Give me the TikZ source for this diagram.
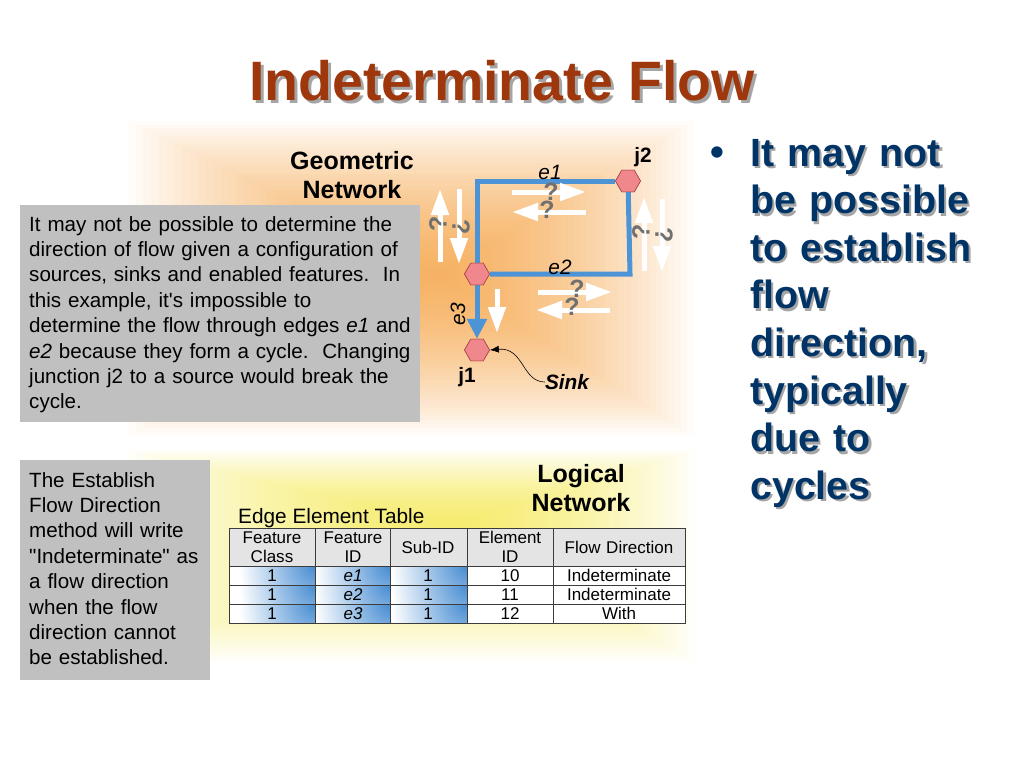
\documentclass[tikz,border=0pt]{standalone}
\usepackage{fontspec}
\setmainfont{Liberation Sans}[Ligatures=TeXOff]
\usetikzlibrary{arrows.meta,shapes.geometric}

\definecolor{titleRed}{RGB}{158,56,12}
\definecolor{orangeC}{RGB}{246,178,100}
\definecolor{yellowC}{RGB}{246,236,112}
\definecolor{grayBox}{RGB}{192,192,192}
\definecolor{netBlue}{RGB}{77,148,214}
\definecolor{pinkJ}{RGB}{240,135,140}
\definecolor{pinkEdge}{RGB}{170,70,70}
\definecolor{qGray}{RGB}{112,112,112}
\definecolor{navy}{RGB}{0,51,102}
\definecolor{shadowGray}{RGB}{165,165,165}
\definecolor{hdrGray}{RGB}{228,228,228}
\definecolor{cellBlue}{RGB}{70,140,210}
\definecolor{tabLine}{RGB}{60,60,60}

\newcommand\fsz[2]{\fontsize{#1}{#2}\selectfont}
% soft rectangular gradient panel: x1,y1,x2,y2,cx,cy,colour
\newcommand\softpanel[7]{%
  \foreach \gfI in {0,...,40}{%
    \pgfmathsetmacro\gfT{\gfI/40}%
    \pgfmathsetmacro\gfP{100*(1.6*\gfT-0.6*\gfT*\gfT)}%
    \fill[#7!\gfP!white]
      ({#1+\gfT*(#5-#1)*0.97},{#2+\gfT*(#6-#2)*0.97}) rectangle
      ({#3-\gfT*(#3-#5)*0.97},{#4-\gfT*(#4-#6)*0.97});
  }}

\begin{document}
\begin{tikzpicture}[x=1pt,y=-1pt,
  graybox/.style={fill=grayBox,draw=none,minimum width=#1,inner sep=0pt,anchor=north west},
  boxtext/.style={anchor=base west,inner sep=0pt,text width=395pt,align=left,font=\fsz{20.6}{25.4}},
  nettitle/.style={anchor=base,inner sep=0pt,text width=200pt,align=center,font=\fsz{25}{29}\bfseries},
  wArrow/.style={draw=white,line width=5pt,-{Triangle[length=26pt,width=17pt]}},
  qmark/.style={text=qGray,font=\fsz{25}{25}\bfseries,inner sep=0pt},
  junc/.style={regular polygon,regular polygon sides=6,minimum size=25pt,inner sep=0pt,
               fill=pinkJ,draw=pinkEdge,line width=0.6pt},
  netline/.style={draw=netBlue,line width=5pt,line join=miter},
  lbl/.style={inner sep=0pt,font=\fsz{20.8}{24}},
  tabtext/.style={inner sep=0pt,anchor=base,text width=90pt,align=center,font=\fsz{17}{19}},
  rtext/.style={anchor=base west,inner sep=0pt,text width=270pt,align=left,font=\fsz{39.4}{47.6}\bfseries}
]
\useasboundingbox (0,0) rectangle (1024,768);
\fill[white] (0,0) rectangle (1024,768);

% gradient panels
\softpanel{120}{117}{700}{440}{440}{275}{orangeC}
\softpanel{120}{448}{700}{665}{450}{525}{yellowC}

% title
\node[anchor=base,inner sep=0pt,font=\fsz{55.5}{60}\bfseries,text=shadowGray] (titlesh) at (505,103) {Indeterminate Flow};
\node[anchor=base,inner sep=0pt,font=\fsz{55.5}{60}\bfseries,text=titleRed] (title) at (502,100) {Indeterminate Flow};

% grey explanation boxes
\node[graybox=400pt,minimum height=217pt] (box1) at (20,205) {};
\node[boxtext] (text1) at (29,231) {It may not be possible to determine the\\
direction of flow given a configuration of\\
sources, sinks and enabled features.\ \ In\\
this example, it's impossible to\\
determine the flow through edges \textit{e1} and\\
\textit{e2} because they form a cycle.\ \ Changing\\
junction j2 to a source would break the\\
cycle.};

\node[graybox=190pt,minimum height=220pt] (box2) at (20,460) {};
\node[boxtext,text width=185pt] (text2) at (29,487) {The Establish\\
Flow Direction\\
method will write\\
"Indeterminate" as\\
a flow direction\\
when the flow\\
direction cannot\\
be established.};

% network titles
\node[nettitle] (geo) at (352,169) {Geometric\\Network};
\node[nettitle] (logi) at (581,482) {Logical\\Network};

% geometric network
\node[junc] (j2) at (628,181) {};
\node[junc] (jm) at (477,274) {};
\node[junc] (j1) at (477,350) {};
\coordinate (ctl) at (477,181);
\coordinate (cbr) at (630,274);
\draw[netline] (jm) -- (ctl) -- (j2);
\draw[netline] (j2) -- (cbr) -- (jm);
\draw[netline,-{Triangle[length=20pt,width=19pt]}] (jm) -- (j1);
% junctions drawn again on top of the lines
\node[junc] at (j2) {};
\node[junc] at (jm) {};
\node[junc] at (j1) {};

% white flow arrows
\draw[wArrow] (512,192) -- (586,192);
\draw[wArrow] (586,212) -- (512,212);
\draw[wArrow] (538,292) -- (612,292);
\draw[wArrow] (610,310) -- (536,310);
\draw[wArrow] (440,262) -- (440,189);
\draw[wArrow] (459,189) -- (459,264);
\draw[wArrow] (644,271) -- (644,197);
\draw[wArrow] (662,199) -- (662,272);
\draw[wArrow] (497,289) -- (497,333);

% question marks
\node[qmark] (q1) at (551,192) {?};
\node[qmark] (q2) at (547,210) {?};
\node[qmark] (q3) at (577,289) {?};
\node[qmark] (q4) at (572,307) {?};
\node[qmark,rotate=90] (q5) at (438,224) {?};
\node[qmark,rotate=-90] (q6) at (461,227) {?};
\node[qmark,rotate=90] (q7) at (641,232) {?};
\node[qmark,rotate=-90] (q8) at (664,235) {?};

% labels
\node[lbl,font=\fsz{20.8}{24}\itshape] (le1) at (550,172) {e1};
\node[lbl,font=\fsz{20.8}{24}\itshape] (le2) at (560,267) {e2};
\node[lbl,font=\fsz{20.8}{24}\itshape,rotate=90] (le3) at (458,314) {e3};
\node[lbl,font=\fsz{20.8}{24}\bfseries] (lj2) at (643,157) {j2};
\node[lbl,font=\fsz{20.8}{24}\bfseries] (lj1) at (467,377) {j1};
\node[lbl,font=\fsz{20.8}{24}\bfseries\itshape] (sink) at (567,382) {Sink};
\draw[black,line width=0.6pt,-{Latex[length=9pt,width=7pt]}]
  (sink.west) .. controls (522,382) and (524,347) .. (j1.east);

% edge element table
\node[anchor=base west,inner sep=0pt,font=\fsz{20.8}{24}] (tabcap) at (238,523) {Edge Element Table};
\fill[hdrGray] (229,528) rectangle (685,566);
\fill[white] (229,566) rectangle (685,623);
\foreach \xa/\xb in {229/315,315/390,390/467}{
  \foreach \ya/\yb in {566/585,585/604,604/623}{
    \begin{scope}
      \clip (\xa,\ya) rectangle (\xb,\yb);
      \shade[inner color=cellBlue,outer color=white] (\xb,\ya) circle[radius=76pt];
    \end{scope}
  }}
\draw[tabLine,line width=0.8pt] (229,528) rectangle (685,623);
\foreach \xx in {315,390,467,553}{\draw[tabLine,line width=0.8pt] (\xx,528) -- (\xx,623);}
\foreach \yy in {566,585,604}{\draw[tabLine,line width=0.8pt] (229,\yy) -- (685,\yy);}

\node[tabtext] (h1) at (272,543) {Feature\\Class};
\node[tabtext] (h2) at (353,543) {Feature\\ID};
\node[tabtext] (h3) at (428,553) {Sub-ID};
\node[tabtext] (h4) at (510,543) {Element\\ID};
\node[tabtext,text width=130pt] (h5) at (619,553) {Flow Direction};

\node[tabtext] (r1a) at (272,581.5) {1};
\node[tabtext] (r1b) at (353,581.5) {\textit{e1}};
\node[tabtext] (r1c) at (428,581.5) {1};
\node[tabtext] (r1d) at (510,581.5) {10};
\node[tabtext,text width=130pt] (r1e) at (619,581.5) {Indeterminate};
\node[tabtext] (r2a) at (272,600.5) {1};
\node[tabtext] (r2b) at (353,600.5) {\textit{e2}};
\node[tabtext] (r2c) at (428,600.5) {1};
\node[tabtext] (r2d) at (510,600.5) {11};
\node[tabtext,text width=130pt] (r2e) at (619,600.5) {Indeterminate};
\node[tabtext] (r3a) at (272,619.5) {1};
\node[tabtext] (r3b) at (353,619.5) {\textit{e3}};
\node[tabtext] (r3c) at (428,619.5) {1};
\node[tabtext] (r3d) at (510,619.5) {12};
\node[tabtext,text width=130pt] (r3e) at (619,619.5) {With};

% right bullet text
\node[anchor=base,inner sep=0pt,font=\fsz{39.4}{40}\bfseries,text=navy] (bul) at (717,165) {•};
\node[rtext,text=shadowGray] (rtsh) at (752.5,168.5) {It may not\\be possible\\to establish\\flow\\direction,\\typically\\due to\\cycles};
\node[rtext,text=navy] (rt) at (750,166) {It may not\\be possible\\to establish\\flow\\direction,\\typically\\due to\\cycles};
\end{tikzpicture}
\end{document}
